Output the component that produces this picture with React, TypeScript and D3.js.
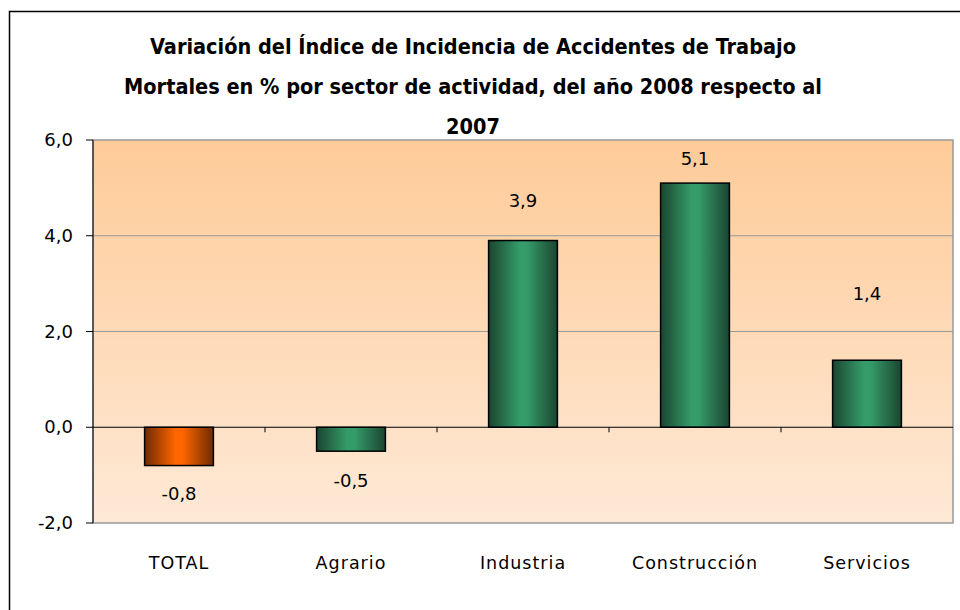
import { useMemo } from 'react';
import * as d3 from 'd3';

const categories = ['TOTAL', 'Agrario', 'Industria', 'Construcción', 'Servicios'];
const values = [-0.8, -0.5, 3.9, 5.1, 1.4];
const yTicks = [-2, 0, 2, 4, 6];
const titleLines = [
  'Variación del Índice de Incidencia de Accidentes de Trabajo',
  'Mortales en % por sector de actividad, del año 2008 respecto al',
  '2007',
];

const W = 960;
const H = 610;
const plot = { left: 93, right: 953, top: 140, bottom: 523 };
// label offsets in pixels beyond the bar end, as placed in the reference
const labelGap = [28, 30, 40, 24, 66];

const fmt = (v: number) => v.toFixed(1).replace('.', ',');

export default function App() {
  const x = useMemo(
    () => d3.scaleBand<string>().domain(categories).range([plot.left, plot.right]).paddingInner(0.6).paddingOuter(0.3),
    []
  );
  const y = useMemo(() => d3.scaleLinear().domain([-2, 6]).range([plot.bottom, plot.top]), []);
  const band = (plot.right - plot.left) / categories.length;
  const font = '"DejaVu Sans", sans-serif';

  return (
    <svg width={W} height={H} style={{ position: 'absolute', left: 0, top: 0, background: '#fff' }}>
      <defs>
        <linearGradient id="bg" x1="0" y1="0" x2="0" y2="1">
          <stop offset="0" stopColor="#fecb98" />
          <stop offset="1" stopColor="#fee9d6" />
        </linearGradient>
        <linearGradient id="green" x1="0" y1="0" x2="1" y2="0">
          <stop offset="0" stopColor="#1a4530" />
          <stop offset="0.45" stopColor="#359c69" />
          <stop offset="0.55" stopColor="#359c69" />
          <stop offset="1" stopColor="#1a4530" />
        </linearGradient>
        <linearGradient id="orange" x1="0" y1="0" x2="1" y2="0">
          <stop offset="0" stopColor="#6e2a00" />
          <stop offset="0.45" stopColor="#ff6600" />
          <stop offset="0.55" stopColor="#ff6600" />
          <stop offset="1" stopColor="#6e2a00" />
        </linearGradient>
      </defs>

      <rect x={9.5} y={11.5} width={1000} height={700} fill="#fff" stroke="#000" strokeWidth={1.5} />

      <g fontFamily='"DejaVu Sans Condensed", "DejaVu Sans", sans-serif' fontWeight="bold" fontSize={21.5} fill="#000" textAnchor="middle">
        {titleLines.map((t, i) => (
          <text key={i} x={473} y={54 + i * 40}>
            {t}
          </text>
        ))}
      </g>

      <rect
        x={plot.left}
        y={plot.top}
        width={plot.right - plot.left}
        height={plot.bottom - plot.top}
        fill="url(#bg)"
        stroke="#999"
        strokeWidth={1.5}
      />

      {yTicks
        .filter((t) => t !== 0 && t !== -2 && t !== 6)
        .map((t) => (
          <line key={t} x1={plot.left} x2={plot.right} y1={y(t)} y2={y(t)} stroke="#999" strokeWidth={1} />
        ))}

      {categories.map((c, i) => {
        const v = values[i];
        const bx = x(c) as number;
        const y0 = y(0);
        const y1 = y(v);
        return (
          <rect
            key={c}
            x={bx}
            y={Math.min(y0, y1)}
            width={x.bandwidth()}
            height={Math.abs(y1 - y0)}
            fill={i === 0 ? 'url(#orange)' : 'url(#green)'}
            stroke="#000"
            strokeWidth={1.5}
          />
        );
      })}

      <line x1={plot.left} x2={plot.right} y1={y(0)} y2={y(0)} stroke="#000" strokeWidth={1} />
      {d3.range(1, categories.length).map((i) => (
        <line
          key={i}
          x1={plot.left + band * i}
          x2={plot.left + band * i}
          y1={y(0)}
          y2={y(0) + 5}
          stroke="#000"
          strokeWidth={1}
        />
      ))}

      <line x1={plot.left} x2={plot.left} y1={plot.top} y2={plot.bottom} stroke="#000" strokeWidth={1} />
      {yTicks.map((t) => (
        <g key={t}>
          <line x1={plot.left - 7} x2={plot.left} y1={y(t)} y2={y(t)} stroke="#000" strokeWidth={1} />
          <text x={73} y={y(t) + 6} textAnchor="end" fontFamily={font} fontSize={18} fill="#000">
            {fmt(t)}
          </text>
        </g>
      ))}

      {categories.map((c, i) => {
        const v = values[i];
        const cx = (x(c) as number) + x.bandwidth() / 2;
        const ly = v >= 0 ? y(v) - labelGap[i] + 6 : y(v) + labelGap[i] + 6;
        return (
          <text key={c} x={cx} y={ly} textAnchor="middle" fontFamily={font} fontSize={18} fill="#000">
            {fmt(v)}
          </text>
        );
      })}

      {categories.map((c) => (
        <text
          key={c}
          x={(x(c) as number) + x.bandwidth() / 2}
          y={569}
          textAnchor="middle"
          fontFamily={font}
          fontSize={17.5}
          letterSpacing={1}
          fill="#000"
        >
          {c}
        </text>
      ))}
    </svg>
  );
}
